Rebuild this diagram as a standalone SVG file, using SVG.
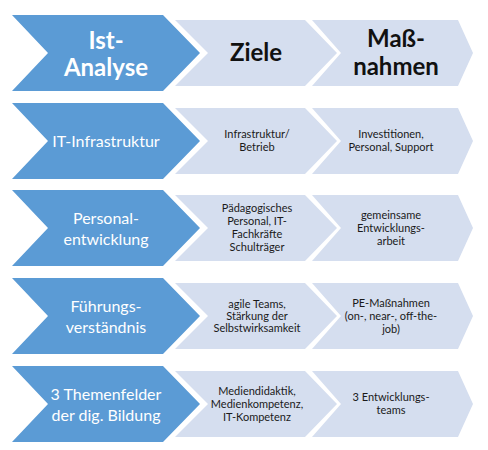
<svg xmlns="http://www.w3.org/2000/svg" width="488" height="450" viewBox="0 0 488 450">
<style>
.dk{fill:#5B9BD5}
.lt{fill:#D5DEEF}
.hw{font-family:Lato,"Open Sans","Liberation Sans",sans-serif;font-weight:bold;font-size:24px;fill:#fff;text-anchor:middle}
.hb{font-family:Lato,"Open Sans","Liberation Sans",sans-serif;font-weight:bold;font-size:24px;fill:#111;text-anchor:middle}
.w{font-family:Lato,"Open Sans","Liberation Sans",sans-serif;font-size:16px;fill:#fff;text-anchor:middle}
.s{font-family:Lato,"Open Sans","Liberation Sans",sans-serif;font-size:11px;fill:#1a1a1a;text-anchor:middle}
</style>
<defs>
<polygon id="c1" points="12,0 163,0 200,38 163,76 12,76 48,38"/>
<polygon id="c2" points="175,5 305,5 337,38 305,71 175,71 208,38"/>
<polygon id="c3" points="312,5 458,5 473,38 458,71 312,71 341,38"/>
</defs>
<rect width="488" height="450" fill="#fff"/>
<g id="row1" transform="translate(0,15)">
<use href="#c1" class="dk"/><use href="#c2" class="lt"/><use href="#c3" class="lt"/>
</g>
<g id="row2" transform="translate(0,103)">
<use href="#c1" class="dk"/><use href="#c2" class="lt"/><use href="#c3" class="lt"/>
</g>
<g id="row3" transform="translate(0,190)">
<use href="#c1" class="dk"/><use href="#c2" class="lt"/><use href="#c3" class="lt"/>
</g>
<g id="row4" transform="translate(0,278)">
<use href="#c1" class="dk"/><use href="#c2" class="lt"/><use href="#c3" class="lt"/>
</g>
<g id="row5" transform="translate(0,366)">
<use href="#c1" class="dk"/><use href="#c2" class="lt"/><use href="#c3" class="lt"/>
</g>
<g id="labels">
<text class="hw" x="106" y="49">Ist-</text>
<text class="hw" x="106" y="76">Analyse</text>
<text class="hb" x="256" y="61">Ziele</text>
<text class="hb" x="396" y="47">Maß-</text>
<text class="hb" x="396" y="75">nahmen</text>

<text class="w" x="106" y="147">IT-Infrastruktur</text>
<text class="s" x="257" y="138">Infrastruktur/</text>
<text class="s" x="257" y="151">Betrieb</text>
<text class="s" x="391" y="138">Investitionen,</text>
<text class="s" x="391" y="151">Personal, Support</text>

<text class="w" x="106" y="224">Personal-</text>
<text class="w" x="106" y="245">entwicklung</text>
<text class="s" x="257" y="212">Pädagogisches</text>
<text class="s" x="257" y="225">Personal, IT-</text>
<text class="s" x="257" y="238">Fachkräfte</text>
<text class="s" x="257" y="251">Schulträger</text>
<text class="s" x="391" y="219">gemeinsame</text>
<text class="s" x="391" y="232">Entwicklungs-</text>
<text class="s" x="391" y="245">arbeit</text>

<text class="w" x="106" y="312">Führungs-</text>
<text class="w" x="106" y="333">verständnis</text>
<text class="s" x="257" y="308">agile Teams,</text>
<text class="s" x="257" y="320">Stärkung der</text>
<text class="s" x="257" y="332">Selbstwirksamkeit</text>
<text class="s" x="391" y="307">PE-Maßnahmen</text>
<text class="s" x="391" y="320">(on-, near-, off-the-</text>
<text class="s" x="391" y="333">job)</text>

<text class="w" x="106" y="400">3 Themenfelder</text>
<text class="w" x="106" y="421">der dig. Bildung</text>
<text class="s" x="257" y="395">Mediendidaktik,</text>
<text class="s" x="257" y="408">Medienkompetenz,</text>
<text class="s" x="257" y="421">IT-Kompetenz</text>
<text class="s" x="391" y="401">3 Entwicklungs-</text>
<text class="s" x="391" y="414">teams</text>
</g>
</svg>
